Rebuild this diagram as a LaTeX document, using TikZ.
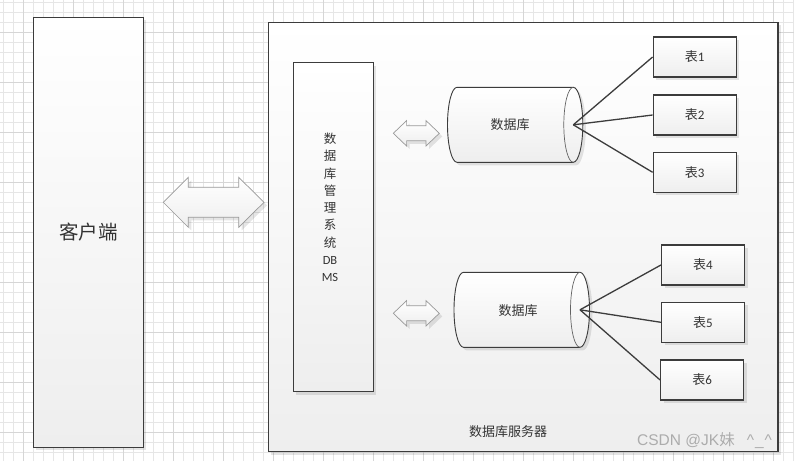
\documentclass[tikz,border=0pt]{standalone}
\usepackage{fontspec}
\setmainfont{Carlito}
\newfontfamily\cjk{Noto Sans CJK SC}
\newfontfamily\wmfont{Liberation Sans}
\usetikzlibrary{shadows}
\definecolor{edgec}{HTML}{3C3C3C}
\definecolor{txtc}{HTML}{333333}
\definecolor{gridminor}{HTML}{E6E6E6}
\definecolor{gridmajor}{HTML}{D6D6D6}
\definecolor{shadec}{HTML}{EEEEEE}
\newcommand\drawdbcyl[3]{%
  \draw[cylshape] (#1,#3-37.5) -- (#2,#3-37.5)
    arc[start angle=90,end angle=-90,x radius=9.5pt,y radius=37.5pt]
    -- (#1,#3+37.5)
    arc[start angle=270,end angle=90,x radius=9.5pt,y radius=37.5pt] -- cycle;
  \draw[edgec!80, line width=0.7pt] (#2,#3-37.5)
    arc[start angle=90,end angle=270,x radius=9.5pt,y radius=37.5pt];}
\tikzset{
  shade/.style={drop shadow={shadow xshift=3pt, shadow yshift=-3pt, fill=black, opacity=0.10}},
  boxst/.style={draw=edgec, line width=1.2pt, top color=white, bottom color=shadec, shade, inner sep=0pt},
  tablebox/.style={boxst, minimum width=83pt, minimum height=40pt, text=txtc, font=\fontsize{13}{14}\selectfont},
  cylshape/.style={draw=edgec, line width=0.9pt, top color=white, bottom color=shadec, shade},
  arrowshape/.style={draw=gray!80, line width=0.7pt, top color=white, bottom color=shadec, shade},
  link/.style={draw=edgec, line width=1.3pt},
  lbl/.style={text=txtc, font=\cjk\fontsize{13}{14}\selectfont}
}
\begin{document}
\begin{tikzpicture}[x=1pt,y=-1pt]
\useasboundingbox (0,0) rectangle (794,461);
\fill[white] (0,0) rectangle (794,461);
% grid
\foreach \i in {0,...,79} \draw[gridminor, line width=0.8pt] ({3.3+10*\i},0) -- ({3.3+10*\i},461);
\foreach \i in {0,...,46} \draw[gridminor, line width=0.8pt] (0,{2.3+10*\i}) -- (794,{2.3+10*\i});
\foreach \i in {0,...,15} \draw[gridmajor, line width=0.8pt] ({23.3+50*\i},0) -- ({23.3+50*\i},461);
\foreach \i in {0,...,9} \draw[gridmajor, line width=0.8pt] (0,{32.3+50*\i}) -- (794,{32.3+50*\i});

% client
\node[boxst, minimum width=110pt, minimum height=430pt] (client) at (88.3,232.3) {};
\node[text=txtc, font=\cjk\fontsize{19.5}{21}\selectfont] (clientlbl) at (88.3,232.5) {客户端};

% big double arrow
\draw[arrowshape] (163.3,202.3) -- (188.3,177.3) -- (188.3,187.3) -- (238.7,187.3) -- (238.7,177.3)
  -- (264,202.3) -- (238.7,227.3) -- (238.7,217.3) -- (188.3,217.3) -- (188.3,227.3) -- cycle;

% server
\node[boxst, minimum width=509.7pt, minimum height=429.4pt] (server) at (523.15,237) {};
\node[lbl] (serverlbl) at (508,432) {数据库服务器};

% DBMS
\node[boxst, minimum width=80pt, minimum height=329pt] (dbms) at (333.3,227.2) {};
\node[text=txtc, align=center, font=\fontsize{12.5}{17.3}\selectfont] (dbmslbl) at (330,207.4)
  {{\cjk 数}\\{\cjk 据}\\{\cjk 库}\\{\cjk 管}\\{\cjk 理}\\{\cjk 系}\\{\cjk 统}\\DB\\MS};

% small arrows
\foreach \cy in {133.3,313.3}{
\draw[arrowshape, shift={(416.3,\cy)}] (-23,0) -- (-9.7,-12.7) -- (-9.7,-7.5) -- (9.7,-7.5) -- (9.7,-12.7)
  -- (23,0) -- (9.7,12.7) -- (9.7,7.5) -- (-9.7,7.5) -- (-9.7,12.7) -- cycle;
}

% databases
\drawdbcyl{457}{573.3}{124.8}
\node[lbl] (db1) at (510,125) {数据库};
\coordinate (db1end) at (573.3,124.8);
\drawdbcyl{463.5}{580}{309.8}
\node[lbl] (db2) at (518,310.5) {数据库};
\coordinate (db2end) at (580,309.8);

% tables
\node[tablebox] (t1) at (694.7,57) {{\cjk 表}1};
\node[tablebox] (t2) at (694.7,115) {{\cjk 表}2};
\node[tablebox] (t3) at (694.7,172.3) {{\cjk 表}3};
\node[tablebox] (t4) at (703,265) {{\cjk 表}4};
\node[tablebox] (t5) at (703,322.3) {{\cjk 表}5};
\node[tablebox] (t6) at (702.2,380) {{\cjk 表}6};

\draw[link] (db1end) -- (t1.west);
\draw[link] (db1end) -- (t2.west);
\draw[link] (db1end) -- (t3.west);
\draw[link] (db2end) -- (t4.west);
\draw[link] (db2end) -- (t5.west);
\draw[link] (db2end) -- (t6.west);

% watermark
\node[anchor=west, text=gray!65, font=\wmfont\fontsize{15.5}{16}\selectfont, inner sep=0pt] (wm) at (637,441)
  {CSDN @JK{\cjk 妹}\hspace{12pt}\textasciicircum\hspace{1pt}\_\hspace{1pt}\textasciicircum};
\end{tikzpicture}
\end{document}
